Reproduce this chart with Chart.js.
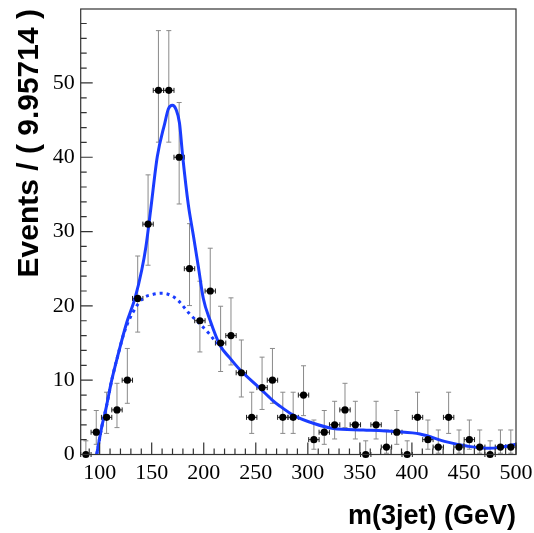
<!DOCTYPE html>
<html>
<head>
<meta charset="utf-8">
<script src="https://cdn.jsdelivr.net/npm/chart.js@4.4.1/dist/chart.umd.min.js"></script>
<style>
  html, body { margin: 0; padding: 0; background: #fff; }
</style>
</head>
<body>
<canvas id="massChart" width="534" height="533"></canvas>
<script>
// binning: 42 bins of 9.95714 GeV between 81.8 and 500
const binCenters = [86.78, 96.74, 106.69, 116.65, 126.61, 136.56, 146.52, 156.48, 166.44, 176.39,
    186.35, 196.31, 206.26, 216.22, 226.18, 236.14, 246.09, 256.05, 266.01, 275.96,
    285.92, 295.88, 305.84, 315.79, 325.75, 335.71, 345.66, 355.62, 365.58, 375.54,
    385.49, 395.45, 405.41, 415.36, 425.32, 435.28, 445.24, 455.19, 465.15, 475.11,
    485.06, 495.02];
const binHalfWidth = 4.98;

const counts = [0, 3, 5, 6, 10, 21, 31, 49, 49, 40, 25, 18, 22, 15, 16, 11, 5, 9, 10, 5,
    5, 8, 2, 3, 4, 6, 4, 0, 4, 1, 3, 0, 5, 2, 1, 5, 1, 2, 1, 0, 1, 1];

// asymmetric (Poisson) error band edges
const errLow = [0, 1.37, 2.84, 3.62, 6.89, 16.47, 25.47, 42.03, 42.03, 33.71, 20.04, 13.80, 17.35, 11.17, 12.05,
    7.74, 2.84, 6.06, 6.89, 2.84, 2.84, 5.23, 0.71, 1.37, 2.09, 3.62, 2.09, 0, 2.09, 0.17,
    1.37, 0, 2.84, 0.71, 0.17, 2.84, 0.17, 0.71, 0.17, 0, 0.17, 0.17];
const errHigh = [1.84, 5.92, 8.38, 9.58, 14.27, 26.71, 37.63, 57.04, 57.04, 47.37, 31.06, 23.32, 27.76, 19.95, 21.08,
    15.41, 8.38, 13.10, 14.27, 8.38, 8.38, 11.94, 4.64, 5.92, 7.16, 9.58, 7.16, 1.84, 7.16, 3.30,
    5.92, 1.84, 8.38, 4.64, 3.30, 8.38, 3.30, 4.64, 3.30, 1.84, 3.30, 3.30];

// total fit (solid)
const fitX = [97.2, 102, 105.8, 111.6, 118, 125.9, 133.9, 140.4, 144.5, 149, 155.4, 162.6, 166, 169.9, 173.5,
    176.7, 179.8, 185.2, 190, 194.8, 199.6, 206, 215.6, 225, 234.8, 254, 265.3, 273.3, 286, 305.2,
    324.4, 353.3, 385.2, 407.7, 433.4, 452.6, 471.8, 485.2, 500];
const fitY = [0, 3.7, 6.0, 10, 13.6, 17.7, 21.0, 24.8, 28.0, 32.9, 40.1, 44.6, 46.5, 47.0, 46.4,
    44.6, 40.1, 33.6, 29.5, 25.3, 21.0, 18.1, 14.7, 13.0, 11.4, 8.9, 7.4, 6.5, 5.3, 4.2,
    3.5, 3.3, 3.07, 2.76, 1.7, 1.14, 0.83, 0.96, 1.4];

// background component (dotted)
const bkgX = [97.2, 102, 105.8, 111.6, 118, 124, 132.3, 141.4, 149.9, 160, 170, 176.3, 185.9, 195.4, 205, 211.4, 215.6];
const bkgY = [0, 3.7, 6.0, 10, 13.6, 16.6, 19.2, 21.0, 21.5, 21.7, 21.3, 20.6, 19.0, 17.7, 16.3, 15.2, 14.7];

const xTicks = [100, 150, 200, 250, 300, 350, 400, 450, 500];
const yTicks = [0, 10, 20, 30, 40, 50];

const curveBlue = '#1a3cff';

const rootStyle = {
    id: 'rootStyle',
    beforeDatasetsDraw(chart) {
        const { ctx, scales: { x, y } } = chart;
        ctx.save();
        for (let i = 0; i < binCenters.length; i++) {
            const px = x.getPixelForValue(binCenters[i]);
            const py = y.getPixelForValue(counts[i]);
            const yLo = y.getPixelForValue(errLow[i]);
            const yHi = y.getPixelForValue(errHigh[i]);
            const xl = x.getPixelForValue(binCenters[i] - binHalfWidth);
            const xr = x.getPixelForValue(binCenters[i] + binHalfWidth);
            // vertical
            ctx.strokeStyle = '#8a8a8a';
            ctx.lineWidth = 1;
            ctx.beginPath();
            ctx.moveTo(px, yLo); ctx.lineTo(px, yHi);
            ctx.moveTo(px - 2.5, yHi); ctx.lineTo(px + 2.5, yHi);
            ctx.moveTo(px - 2.5, yLo); ctx.lineTo(px + 2.5, yLo);
            ctx.stroke();
            // horizontal
            ctx.strokeStyle = '#222';
            ctx.beginPath();
            ctx.moveTo(xl, py); ctx.lineTo(xr, py);
            ctx.moveTo(xl, py - 2.5); ctx.lineTo(xl, py + 2.5);
            ctx.moveTo(xr, py - 2.5); ctx.lineTo(xr, py + 2.5);
            ctx.stroke();
        }
        ctx.restore();
    },
    afterDraw(chart) {
        const { ctx, chartArea: a, scales: { x, y } } = chart;
        ctx.save();
        ctx.strokeStyle = '#333';
        ctx.lineWidth = 1.2;
        ctx.strokeRect(a.left, a.top, a.right - a.left, a.bottom - a.top);
        ctx.beginPath();
        for (let v = 90; v <= 500; v += 10) {
            const px = x.getPixelForValue(v);
            const len = v % 50 === 0 ? 12 : 6;
            ctx.moveTo(px, a.bottom); ctx.lineTo(px, a.bottom - len);
        }
        for (let v = 2; v < 60; v += 2) {
            const py = y.getPixelForValue(v);
            const len = v % 10 === 0 ? 12 : 6;
            ctx.moveTo(a.left, py); ctx.lineTo(a.left + len, py);
        }
        ctx.stroke();
        ctx.restore();
    }
};

function noEdgePadding(s) {
    s.paddingTop = 0;
    s.paddingBottom = 0;
    s.paddingLeft = 0;
    s.paddingRight = 0;
}

const ctx = document.getElementById('massChart').getContext('2d');
new Chart(ctx, {
    type: 'scatter',
    data: {
        datasets: [{
            label: 'data',
            data: binCenters.map((c, i) => ({ x: c, y: counts[i] })),
            pointRadius: 3.6,
            pointBackgroundColor: '#000',
            pointBorderWidth: 0,
            clip: false,
            order: 0
        }, {
            type: 'line',
            label: 'fit',
            data: fitX.map((v, i) => ({ x: v, y: fitY[i] })),
            borderColor: curveBlue,
            borderWidth: 3,
            pointRadius: 0,
            fill: false,
            cubicInterpolationMode: 'monotone',
            order: 1
        }, {
            type: 'line',
            label: 'background',
            data: bkgX.map((v, i) => ({ x: v, y: bkgY[i] })),
            borderColor: curveBlue,
            borderWidth: 3,
            borderDash: [3, 4],
            pointRadius: 0,
            fill: false,
            cubicInterpolationMode: 'monotone',
            order: 2
        }]
    },
    options: {
        responsive: false,
        animation: false,
        layout: { autoPadding: false, padding: { left: 0, right: 18, top: 9, bottom: 0 } },
        plugins: { legend: { display: false }, tooltip: { enabled: false } },
        scales: {
            x: {
                type: 'linear',
                min: 81.8,
                max: 500,
                afterBuildTicks: s => { s.ticks = xTicks.map(v => ({ value: v })); },
                afterFit: s => { s.height = 78.5; noEdgePadding(s); },
                grid: { display: false, drawTicks: false },
                border: { display: false },
                ticks: { font: { family: 'Liberation Serif', size: 22 }, color: '#000', padding: 6, maxRotation: 0, autoSkip: false },
                title: {
                    display: true, text: 'm(3jet) (GeV)', align: 'end', color: '#000',
                    font: { family: 'Liberation Sans', size: 27, weight: 'bold' },
                    padding: { top: 0, bottom: 0 }
                }
            },
            y: {
                type: 'linear',
                min: 0,
                max: 59.95,
                afterBuildTicks: s => { s.ticks = yTicks.map(v => ({ value: v })); },
                afterFit: s => { s.width = 80.7; noEdgePadding(s); },
                grid: { display: false, drawTicks: false },
                border: { display: false },
                ticks: { font: { family: 'Liberation Serif', size: 22 }, color: '#000', padding: 6 },
                title: {
                    display: true, text: 'Events / ( 9.95714 )', align: 'end', color: '#000',
                    font: { family: 'Liberation Sans', size: 30, weight: 'bold' },
                    padding: { top: 12, bottom: 0 }
                }
            }
        }
    },
    plugins: [rootStyle]
});
</script>
</body>
</html>
